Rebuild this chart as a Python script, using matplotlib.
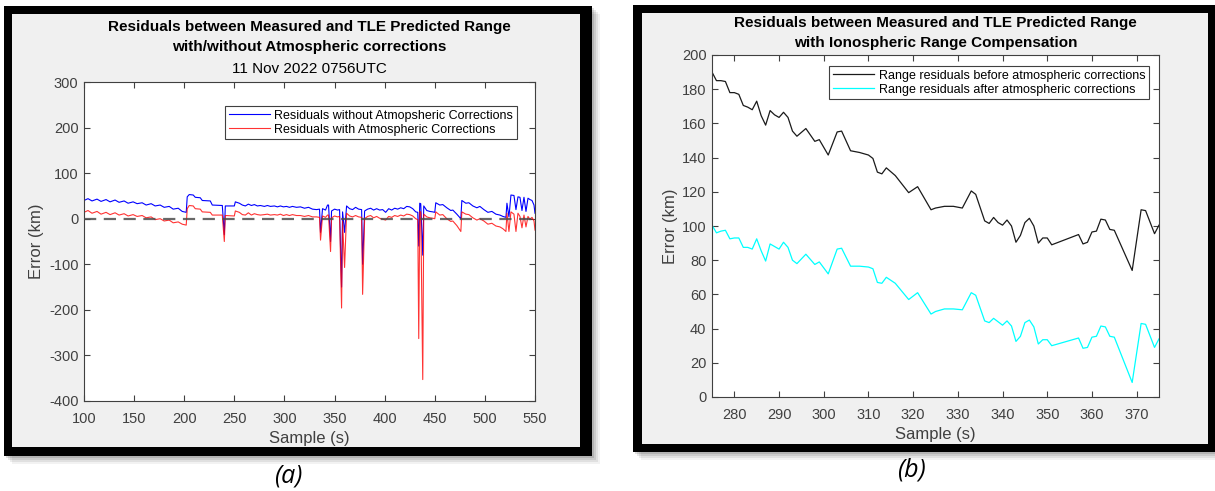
"""Range residuals between measured and TLE-predicted range, two panels.

(a) residuals with/without atmospheric corrections over the whole pass,
(b) residuals before/after ionospheric range compensation for a sub-window.
"""

import matplotlib

matplotlib.use("Agg")
import matplotlib.pyplot as plt  # noqa: E402
from matplotlib.patches import Rectangle  # noqa: E402

plt.rcParams["font.family"] = ["Liberation Sans", "DejaVu Sans"]
plt.rcParams["axes.unicode_minus"] = False

W, H = 1215, 491

# ---- panel (a): whole pass, 11 Nov 2022 0756UTC ----
sample_a = [100, 104, 108, 113, 117, 122, 126, 131, 135, 140,
            144, 149, 153, 158, 162, 167, 171, 176, 180, 185,
            189, 194, 198, 202, 203, 205, 209, 211, 216, 218,
            226, 228, 238, 240, 241, 250, 251, 255, 258, 261,
            264, 267, 270, 273, 276, 280, 283, 286, 290, 293,
            296, 299, 302, 305, 308, 312, 316, 320, 324, 328,
            332, 335, 336, 338, 341, 343, 344, 346, 347, 350,
            353, 355, 357, 358, 360, 362, 365, 368, 371, 374,
            377, 378, 380, 383, 386, 389, 392, 395, 398, 401,
            404, 407, 410, 413, 416, 419, 422, 425, 428, 431,
            433, 434, 435, 436, 438, 439, 442, 445, 448, 450,
            451, 455, 458, 462, 466, 468, 472, 476, 477, 481,
            484, 488, 492, 495, 499, 503, 507, 511, 515, 518,
            521, 522, 524, 526, 529, 531, 533, 535, 537, 539,
            541, 543, 545, 547, 549, 550]

resid_raw = [40, 44, 39, 43, 38, 42, 37, 41, 36, 39,
             34, 37, 33, 35, 30, 33, 28, 30, 25, 27,
             21, 23, 16, 14, 48, 53, 52, 47, 46, 40,
             39, 30, 29, -35, 28, 28, 37, 34, 30, 28,
             32, 29, 31, 28, 29, 27, 29, 27, 28, 26,
             28, 26, 27, 25, 27, 25, 26, 23, 25, 21,
             20, 21, -30, 22, 19, 30, 30, -50, 17, 21,
             19, 20, -150, 15, -30, 28, 22, 20, 25, 21,
             20, -100, 17, 21, 23, 19, 22, 19, 20, 14,
             22, 19, 23, 21, 24, 22, 27, 26, 22, 15,
             14, -60, 34, 33, -80, 28, 18, 16, 15, 14,
             35, 30, 31, 24, 18, 19, 10, 0, 40, 34,
             35, 28, 24, 27, 20, 14, 16, 10, 8, 5,
             3, 34, 4, 52, 51, 20, 48, 47, 18, 47,
             16, 45, 42, 40, 30, 12]

resid_corr = [14, 18, 12, 16, 10, 14, 9, 13, 8, 11,
              6, 9, 5, 7, 2, 4, -2, 0, -5, -3,
              -9, -7, -12, -14, 22, 29, 28, 22, 21, 15,
              14, 8, 8, -50, 7, 6, 17, 14, 9, 8,
              13, 8, 11, 9, 8, 9, 10, 8, 9, 8,
              10, 7, 9, 7, 9, 7, 7, 5, 7, 4,
              4, 3, -47, 6, 3, 8, 8, -72, 2, 6,
              4, 5, -196, -5, -107, 12, 6, 4, 7, 4,
              3, -166, 0, 5, 7, 2, 5, 1, -1, -3,
              5, 3, 7, 5, 8, 6, 10, 9, 6, 0,
              -2, -263, 16, 15, -353, 10, 4, 2, 1, 0,
              15, 8, 9, 0, -6, -5, -15, -28, 15, 10,
              9, 2, -3, 0, -5, -12, -10, -16, -18, -22,
              -28, 12, -28, 15, 10, -28, 12, 5, -20, 8,
              -18, 5, -2, 3, -5, -25]

# ---- panel (b): 275-375 s window ----
sample_b = [275, 276, 277, 278, 279, 280, 281, 282, 283, 284,
            285, 286, 287, 288, 289, 290, 291, 292, 293, 294,
            296, 298, 299, 301, 303, 304, 306, 308, 310, 311,
            312, 313, 314, 316, 319, 321, 324, 325, 327, 329,
            331, 333, 334, 336, 337, 338, 339, 340, 341, 342,
            343, 344, 345, 346, 347, 348, 349, 350, 351, 357,
            358, 359, 360, 361, 362, 363, 364, 365, 369, 371,
            372, 374, 375]

before_iono = [190, 185, 185, 184.5, 178, 178, 177, 170.5, 169.5, 168,
               173, 164.5, 159, 167.5, 165, 163.5, 166.5, 163.5, 155.5, 152.5,
               157, 149.5, 150.5, 141.5, 155, 155.5, 144, 143, 141.5, 139.5,
               131.5, 130.5, 134, 129.5, 119.5, 123, 109.5, 110.5, 111.5, 111.5,
               110.5, 120.5, 118.5, 103, 101.5, 105, 102, 100.5, 103.5, 100,
               90.5, 94.5, 102, 104.5, 100, 90, 93, 93, 89, 95,
               89.5, 90.5, 96.5, 97, 104, 103.5, 98, 97.5, 74, 109.5,
               109, 95.5, 100.5]

after_iono = [100.5, 96, 97, 97.5, 92.5, 93, 93, 87.5, 87.5, 86.5,
              92.5, 85.5, 79.5, 89.5, 88, 86.5, 90.5, 87.5, 80, 78,
              83.5, 77.5, 79, 72, 86.5, 87, 76.5, 76.5, 76, 75,
              67, 66.5, 70, 66.5, 57, 61, 48.5, 50, 51.5, 51.5,
              51, 61, 59.5, 44.5, 43.5, 46, 44, 42, 44.5, 41.5,
              32.5, 35.5, 43.5, 45, 41, 31, 33.5, 33.5, 30, 34.5,
              28.5, 29, 35, 35.5, 41.5, 41, 35.5, 35, 8.5, 43,
              42.5, 29, 34]

assert len(sample_a) == len(resid_raw) == len(resid_corr)
assert len(sample_b) == len(before_iono) == len(after_iono)

AX_COL = "#404040"


def fx(x):
    return x / W


def fy(y):
    return 1 - y / H


def panel_frame(fig, x0, y0, x1, y1, inner):
    """Grey window with a heavy black border and a soft drop shadow."""
    for k, a in ((8, 0.05), (6, 0.07), (4, 0.09), (2, 0.12)):
        fig.patches.append(Rectangle((fx(x0 + k), fy(y1 + k)), (x1 - x0) / W, (y1 - y0) / H,
                                     transform=fig.transFigure, color="black", alpha=a, lw=0, zorder=-3))
    fig.patches.append(Rectangle((fx(x0), fy(y1)), (x1 - x0) / W, (y1 - y0) / H,
                                 transform=fig.transFigure, color="black", lw=0, zorder=-2))
    ix0, iy0, ix1, iy1 = inner
    fig.patches.append(Rectangle((fx(ix0), fy(iy1)), (ix1 - ix0) / W, (iy1 - iy0) / H,
                                 transform=fig.transFigure, color="#f0f0f0", lw=0, zorder=-1))


def style_axes(ax):
    for s in ax.spines.values():
        s.set_color(AX_COL)
        s.set_linewidth(0.8)
    ax.tick_params(direction="in", top=True, right=True, length=4, width=0.8,
                   colors=AX_COL, labelsize=10.5)
    ax.tick_params(axis="x", pad=8)
    ax.tick_params(axis="y", pad=4)


def add_axes(fig, x0, y0, x1, y1):
    return fig.add_axes([fx(x0), fy(y1), (x1 - x0) / W, (y1 - y0) / H])


def add_legend(ax, anchor):
    leg = ax.legend(loc="upper right", bbox_to_anchor=anchor, fontsize=9, fancybox=False,
                    edgecolor=AX_COL, framealpha=1, handlelength=3.3, handletextpad=0.35,
                    labelspacing=0.15, borderpad=0.3, borderaxespad=0)
    leg.get_frame().set_linewidth(0.8)
    return leg


fig = plt.figure(figsize=(W / 100, H / 100), dpi=100)

panel_frame(fig, 4, 6, 592, 456, (12, 14, 580, 447))
panel_frame(fig, 633, 5, 1222, 452, (642, 13, 1208, 444))

# panel (a)
ax1 = add_axes(fig, 84, 82, 535, 401)
ax1.plot(sample_a, resid_raw, color=(0, 0, 1), lw=0.8, label="Residuals without Atmopsheric Corrections")
ax1.plot(sample_a, resid_corr, color=(1, 0, 0), lw=0.8, alpha=0.8, label="Residuals with Atmospheric Corrections")
ax1.axhline(0, color="#4d4d4d", lw=1.6, alpha=0.85, linestyle=(0, (5.5, 3.4)), zorder=5)
ax1.set_xlim(100, 550)
ax1.set_ylim(-400, 300)
ax1.set_xticks(range(100, 551, 50))
ax1.set_yticks(range(-400, 301, 100))
style_axes(ax1)
add_legend(ax1, (0.960, 0.925))

fig.text(fx(309.5), fy(27), "Residuals between Measured and TLE Predicted Range",
         ha="center", va="center", fontsize=11, fontweight="bold")
fig.text(fx(309.5), fy(47.5), "with/without Atmospheric corrections",
         ha="center", va="center", fontsize=11, fontweight="bold")
fig.text(fx(309.5), fy(69), "11 Nov 2022 0756UTC", ha="center", va="center", fontsize=11)
fig.text(fx(309.5), fy(439), "Sample (s)", ha="center", va="center", fontsize=12, color=AX_COL)
fig.text(fx(37), fy(241.5), "Error (km)", ha="center", va="center", rotation=90,
         fontsize=12, color=AX_COL)

# panel (b)
ax2 = add_axes(fig, 712, 55, 1159, 397)
ax2.plot(sample_b, before_iono, color="#1a1a1a", lw=0.9, label="Range residuals before atmospheric corrections")
ax2.plot(sample_b, after_iono, color=(0, 1, 1), lw=0.9, label="Range residuals after atmospheric corrections")
ax2.set_xlim(275, 375)
ax2.set_ylim(0, 200)
ax2.set_xticks(range(280, 371, 10))
ax2.set_yticks(range(0, 201, 20))
style_axes(ax2)
add_legend(ax2, (0.978, 0.968))

fig.text(fx(935.5), fy(23), "Residuals between Measured and TLE Predicted Range",
         ha="center", va="center", fontsize=11, fontweight="bold")
fig.text(fx(935.5), fy(42.5), "with Ionospheric Range Compensation",
         ha="center", va="center", fontsize=11, fontweight="bold")
fig.text(fx(935.5), fy(434), "Sample (s)", ha="center", va="center", fontsize=12, color=AX_COL)
fig.text(fx(670), fy(226), "Error (km)", ha="center", va="center", rotation=90,
         fontsize=12, color=AX_COL)

# sub-figure captions
fig.text(fx(288), fy(476), "(a)", ha="center", va="center", fontsize=18, style="italic",
         family=["Open Sans", "DejaVu Sans"])
fig.text(fx(911), fy(470), "(b)", ha="center", va="center", fontsize=18, style="italic",
         family=["Open Sans", "DejaVu Sans"])

fig.savefig("out.png", dpi=100, facecolor="white")
